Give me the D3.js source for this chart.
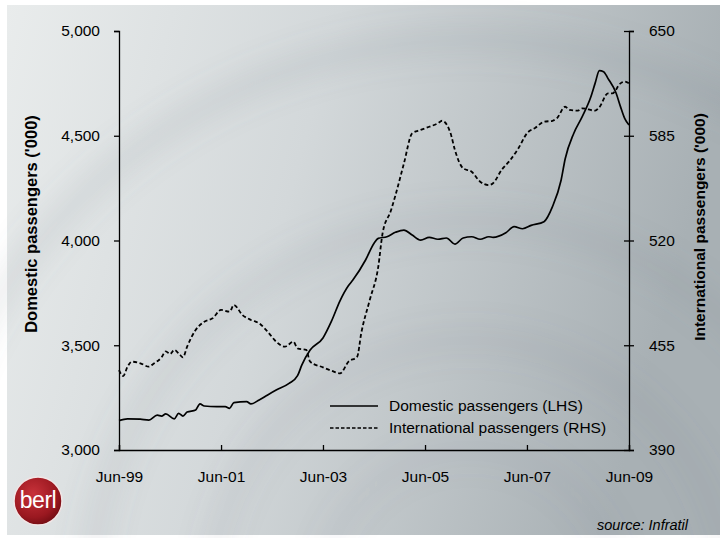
<!DOCTYPE html>
<html>
<head>
<meta charset="utf-8">
<script src="https://cdn.jsdelivr.net/npm/d3@7"></script>
<style>
  body { margin: 0; background: #fff; }
  svg { display: block; font-family: "Liberation Sans", Arial, sans-serif; }
</style>
</head>
<body>
<div id="chart"></div>
<script>
// months after Jun-99
const domMonths = [0, 2, 5, 7, 9, 10, 11, 13, 14, 15, 16, 18, 19, 20, 23, 25, 26, 27, 30, 31, 33, 35, 37, 40, 42, 43, 45, 48, 50, 52, 54, 55, 58, 60, 61, 63, 65, 67, 69, 71, 73, 75, 77, 79, 81, 83, 85, 87, 88, 91, 93, 95, 97, 100, 102, 104, 105, 107, 109, 111, 112, 113, 114, 115, 117, 118, 119, 120];
const domValues = [3140, 3149, 3147, 3143, 3166, 3162, 3172, 3149, 3175, 3162, 3181, 3191, 3220, 3210, 3207, 3207, 3199, 3226, 3231, 3220, 3239, 3263, 3286, 3318, 3355, 3406, 3477, 3535, 3615, 3712, 3785, 3811, 3907, 3987, 4010, 4018, 4039, 4050, 4026, 4002, 4015, 4006, 4012, 3983, 4012, 4018, 4006, 4018, 4015, 4037, 4066, 4056, 4072, 4090, 4162, 4289, 4390, 4511, 4591, 4686, 4750, 4811, 4806, 4774, 4703, 4639, 4583, 4551];

const intMonths = [0, 1, 2, 3, 5, 7, 8, 10, 11, 12, 13, 14, 15, 16, 18, 20, 22, 24, 26, 27, 29, 31, 33, 35, 37, 39, 41, 42, 44, 45, 48, 50, 52, 54, 56, 57, 59, 61, 62, 64, 65, 67, 69, 71, 73, 75, 76, 78, 79, 81, 83, 85, 87, 88, 90, 92, 94, 96, 98, 100, 102, 103, 105, 106, 108, 109, 112, 113, 115, 116, 118, 119, 120];
const intValues = [439.6, 435.9, 441.7, 444.8, 443.8, 441.7, 443.4, 447.5, 451.2, 449.6, 452.1, 450.0, 447.5, 454.1, 464.5, 469.6, 471.7, 476.9, 475.8, 480.0, 473.8, 470.7, 468.6, 463.4, 457.2, 454.1, 457.2, 453.1, 452.1, 444.8, 441.3, 439.2, 437.6, 444.8, 447.9, 462.4, 483.1, 503.7, 524.5, 538.9, 548.0, 567.9, 586.5, 588.6, 590.6, 592.7, 594.3, 586.5, 576.2, 564.8, 562.7, 556.5, 554.4, 555.5, 563.7, 569.9, 577.2, 586.5, 590.0, 593.7, 594.3, 595.8, 603.0, 601.0, 600.6, 602.0, 600.6, 602.7, 611.3, 611.3, 617.5, 618.6, 617.5];

const xTickMonths = [0, 24, 48, 72, 96, 120];
const xTickLabels = ["Jun-99", "Jun-01", "Jun-03", "Jun-05", "Jun-07", "Jun-09"];
const leftTicks = [3000, 3500, 4000, 4500, 5000];
const rightTicks = [390, 455, 520, 585, 650];
const legendLabels = ["Domestic passengers (LHS)", "International passengers (RHS)"];

const W = 720, H = 538;
const margin = { top: 31, right: 91, bottom: 88, left: 119 };
const width = W - margin.left - margin.right;
const height = H - margin.top - margin.bottom;

const start = new Date(1999, 5, 1);
const toDate = (m) => d3.timeMonth.offset(start, m);

const svg = d3.select("#chart").append("svg")
  .attr("width", W)
  .attr("height", H);

// background
const defs = svg.append("defs");
const bg = defs.append("linearGradient").attr("id", "bg")
  .attr("x1", 0).attr("y1", 0).attr("x2", 1).attr("y2", 0.2);
bg.append("stop").attr("offset", "0%").attr("stop-color", "#e9ecec");
bg.append("stop").attr("offset", "45%").attr("stop-color", "#d3d8da");
bg.append("stop").attr("offset", "100%").attr("stop-color", "#a8b0b4");
defs.append("filter").attr("id", "blur")
  .attr("x", "-50%").attr("y", "-50%").attr("width", "200%").attr("height", "200%")
  .append("feGaussianBlur").attr("stdDeviation", 14);
const logoGrad = defs.append("radialGradient").attr("id", "logo")
  .attr("cx", "40%").attr("cy", "35%").attr("r", "70%");
logoGrad.append("stop").attr("offset", "0%").attr("stop-color", "#c8323a");
logoGrad.append("stop").attr("offset", "70%").attr("stop-color", "#9a1820");
logoGrad.append("stop").attr("offset", "100%").attr("stop-color", "#6e0c12");

svg.append("rect").attr("x", 7).attr("y", 5).attr("width", W - 7).attr("height", H - 8)
  .attr("fill", "url(#bg)");

// soft swirl rings
const rings = svg.append("g").attr("filter", "url(#blur)").attr("fill", "none");
[[470, 600, 560, 0.12], [470, 600, 380, 0.10], [470, 600, 260, 0.08], [470, 600, 150, 0.05]].forEach(r => {
  rings.append("circle").attr("cx", r[0]).attr("cy", r[1]).attr("r", r[2])
    .attr("stroke", "#6d7980").attr("stroke-width", 28).attr("stroke-opacity", r[3]);
});

const g = svg.append("g").attr("transform", `translate(${margin.left},${margin.top})`);

const x = d3.scaleTime().domain([toDate(0), toDate(120)]).range([0, width]);
const yL = d3.scaleLinear().domain([3000, 5000]).range([height, 0]);
const yR = d3.scaleLinear().domain([390, 650]).range([height, 0]);

// axes
const fmt = d3.format(",");
const leftAxis = g.append("g")
  .call(d3.axisLeft(yL).tickValues(leftTicks).tickFormat(fmt).tickSize(5).tickPadding(14));
const rightAxis = g.append("g").attr("transform", `translate(${width},0)`)
  .call(d3.axisRight(yR).tickValues(rightTicks).tickSize(5).tickPadding(15));
rightAxis.selectAll(".tick line").attr("x1", -5);
const bottomAxis = g.append("g").attr("transform", `translate(0,${height})`)
  .call(d3.axisBottom(x).tickValues(xTickMonths.map(toDate))
    .tickFormat((d, i) => xTickLabels[i]).tickSize(-5).tickPadding(21));

[leftAxis, rightAxis, bottomAxis].forEach(a => {
  a.select(".domain").attr("stroke", "#000").attr("stroke-width", 1.3);
  a.selectAll(".tick line").attr("stroke", "#000").attr("stroke-width", 1.3);
  a.selectAll("text").attr("font-size", 15.5).attr("fill", "#000")
    .attr("font-family", "Liberation Sans, Arial, sans-serif");
});

// axis titles
svg.append("text")
  .attr("transform", "translate(37,224) rotate(-90)")
  .attr("text-anchor", "middle").attr("font-size", 16.5).attr("font-weight", "bold")
  .text("Domestic passengers ('000)");
svg.append("text")
  .attr("transform", "translate(705,227) rotate(-90)")
  .attr("text-anchor", "middle").attr("font-size", 15.5).attr("font-weight", "bold")
  .text("International passengers ('000)");

// lines
const domData = domMonths.map((m, i) => ({ date: toDate(m), value: domValues[i] }));
const intData = intMonths.map((m, i) => ({ date: toDate(m), value: intValues[i] }));

g.append("path").datum(intData)
  .attr("fill", "none").attr("stroke", "#000").attr("stroke-width", 1.8)
  .attr("stroke-dasharray", "4,2.5")
  .attr("d", d3.line().x(d => x(d.date)).y(d => yR(d.value)).curve(d3.curveMonotoneX));

g.append("path").datum(domData)
  .attr("fill", "none").attr("stroke", "#000").attr("stroke-width", 1.7)
  .attr("d", d3.line().x(d => x(d.date)).y(d => yL(d.value)).curve(d3.curveMonotoneX));

// legend
const legend = svg.append("g").attr("transform", "translate(330,406)");
legendLabels.forEach((label, i) => {
  const row = legend.append("g").attr("transform", `translate(0,${i * 22})`);
  row.append("line").attr("x1", 0).attr("x2", 48)
    .attr("stroke", "#000").attr("stroke-width", 1.3)
    .attr("stroke-dasharray", i === 1 ? "3.5,2" : null);
  row.append("text").attr("x", 59).attr("dy", "0.35em")
    .attr("font-size", 15.5).text(label);
});

// logo and source
const logo = svg.append("g").attr("transform", "translate(38,501)");
logo.append("circle").attr("r", 24).attr("fill", "url(#logo)")
  .attr("stroke", "#f2e6e6").attr("stroke-width", 1.5);
logo.append("text").attr("text-anchor", "middle").attr("dy", "0.3em")
  .attr("font-size", 23).attr("fill", "#fff").attr("letter-spacing", -0.5)
  .text("berl");

svg.append("text").attr("x", 597).attr("y", 530)
  .attr("font-size", 14.5).attr("font-style", "italic")
  .text("source: Infratil");
</script>
</body>
</html>
